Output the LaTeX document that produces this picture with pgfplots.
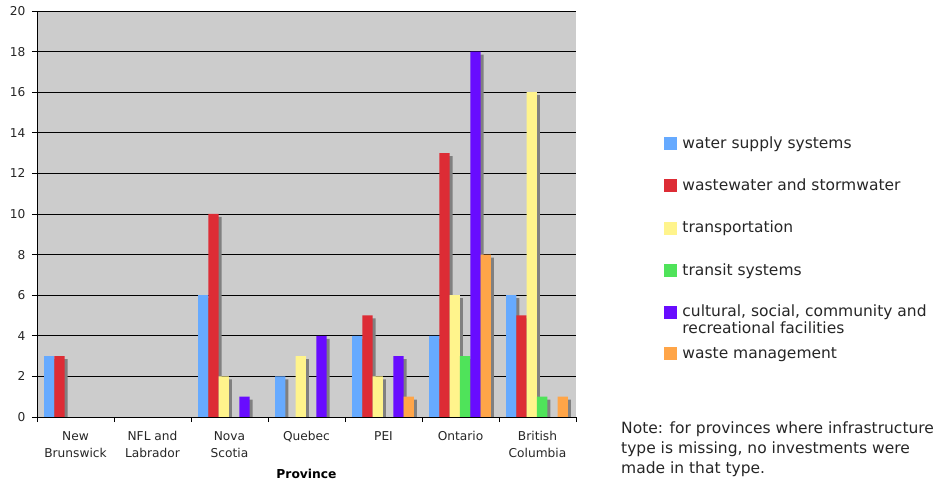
\documentclass[border=0pt]{standalone}
\usepackage{pgfplots}
\pgfplotsset{compat=1.18}
\usepackage{pgfplotstable}
\usepackage{fontspec}
\setmainfont{DejaVu Sans}
\usetikzlibrary{shadows}

\definecolor{cWater}{RGB}{102,170,255}
\definecolor{cWaste}{RGB}{221,44,53}
\definecolor{cTransp}{RGB}{255,244,140}
\definecolor{cTransit}{RGB}{79,227,90}
\definecolor{cCult}{RGB}{104,12,255}
\definecolor{cMgmt}{RGB}{255,165,72}
\definecolor{shadowgray}{RGB}{128,128,128}
\definecolor{plotbg}{RGB}{204,204,204}

% Number of infrastructure projects by province and type
\pgfplotstableread{
x water waste transp transit cultural mgmt
0 3 3 0 0 0 0
1 0 0 0 0 0 0
2 6 10 2 0 1 0
3 2 0 3 0 4 0
4 4 5 2 0 3 1
5 4 13 6 3 18 8
6 6 5 16 1 0 1
}\provdata

\newcommand\legstrut{\rule[-4bp]{0pt}{15bp}}

\pgfplotsset{
  shadowbar/.style={ybar, bar width=10.3bp, draw=none, forget plot,
    drop shadow={shadow xshift=3bp, shadow yshift=-3bp, fill=shadowgray, opacity=1}},
  legsquare/.style={legend image code/.code={\fill[#1] (0bp,-6bp) rectangle (12bp,6bp);}},
}

\begin{document}
\begin{tikzpicture}
\path[use as bounding box] (0,0) rectangle (943bp,483bp);
\begin{axis}[
  at={(37bp,66bp)}, anchor=south west,
  scale only axis, width=539bp, height=406bp,
  xmin=-0.5, xmax=6.5, ymin=0, ymax=20,
  axis background/.style={fill=plotbg},
  axis lines=left, axis line style={-, black, line width=0.8bp},
  ytick={0,2,...,20}, ymajorgrids,
  major grid style={black, line width=0.8bp},
  tick align=outside, major tick length=5bp,
  tick style={black, line width=0.8bp},
  xtick={-0.5,0.5,...,6.5}, xticklabels={},
  extra x ticks={0,...,6},
  extra x tick labels={New\\Brunswick, NFL and\\Labrador, Nova\\Scotia, Quebec, PEI, Ontario, British\\Columbia},
  extra x tick style={major tick length=0pt, xmajorgrids=false},
  /pgf/number format/assume math mode=true,
  tick label style={font=\fontsize{12.2bp}{17bp}\selectfont, text=black!85},
  xticklabel style={align=center, yshift=-11bp},
  yticklabel style={xshift=-3bp},
  xlabel={Province},
  x label style={at={(axis description cs:0.5,0)}, anchor=base, yshift=-61.5bp,
    font=\fontsize{12.3bp}{14bp}\selectfont\bfseries},
  legend style={at={(axis description cs:1.163,0.696)}, anchor=north west,
    draw=none, fill=none, inner sep=0pt, row sep=25bp, column sep=4bp,
    font=\fontsize{15.5bp}{17bp}\selectfont, text=black!85},
  legend cell align=left,
]
\addplot[shadowbar, fill=cWater,   bar shift=-26.25bp] table[x=x,y=water]{\provdata};
\addplot[shadowbar, fill=cWaste,   bar shift=-15.95bp] table[x=x,y=waste]{\provdata};
\addplot[shadowbar, fill=cTransp,  bar shift=-5.65bp]  table[x=x,y=transp]{\provdata};
\addplot[shadowbar, fill=cTransit, bar shift=4.65bp]   table[x=x,y=transit]{\provdata};
\addplot[shadowbar, fill=cCult,    bar shift=14.95bp]  table[x=x,y=cultural]{\provdata};
\addplot[shadowbar, fill=cMgmt,    bar shift=25.25bp]  table[x=x,y=mgmt]{\provdata};

\addlegendimage{legsquare=cWater}
\addlegendentry{\legstrut water supply systems}
\addlegendimage{legsquare=cWaste}
\addlegendentry{\legstrut wastewater and stormwater}
\addlegendimage{legsquare=cTransp}
\addlegendentry{\legstrut transportation}
\addlegendimage{legsquare=cTransit}
\addlegendentry{\legstrut transit systems}
\addlegendimage{legsquare=cCult}
\addlegendentry{\legstrut\smash{\begin{tabular}[t]{@{}l@{}}cultural, social, community and\\recreational facilities\end{tabular}}}
\addlegendimage{legsquare=cMgmt}
\addlegendentry{\legstrut waste management}
\end{axis}
\node[anchor=north west, inner sep=0pt, align=left, text=black!85,
  font=\fontsize{15.5bp}{20bp}\selectfont] at (621bp,61.6bp)
  {Note: for provinces where infrastructure\\type is missing, no investments were\\made in that type.};
\end{tikzpicture}
\end{document}
